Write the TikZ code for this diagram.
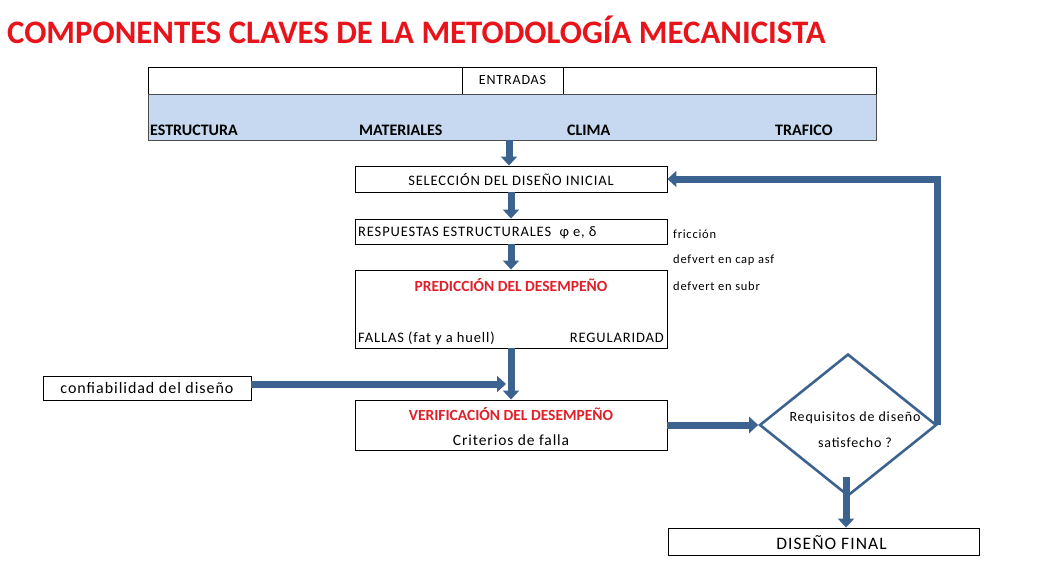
\documentclass[tikz,border=0pt]{standalone}
\usepackage{fontspec}
\setmainfont{Carlito}
\newfontfamily\spacedfont[LetterSpace=6]{Carlito}
\usetikzlibrary{shapes.geometric,arrows.meta,calc}
\definecolor{arr}{HTML}{3C6390}
\definecolor{ttl}{HTML}{E8141B}
\definecolor{rd}{HTML}{E0202A}
\definecolor{bl}{HTML}{C6D9F0}
\tikzset{
  box/.style={draw=black, line width=0.9pt, fill=white, inner sep=0pt, minimum width=312pt},
  arrow/.style={draw=arr, line width=7pt, -{Triangle[width=16pt,length=9pt]}},
  small/.style={font=\spacedfont\fontsize{14.5}{16}\selectfont, inner sep=0pt},
  side/.style={font=\spacedfont\fontsize{12.5}{14}\selectfont, inner sep=0pt},
  hdr/.style={font=\bfseries\fontsize{16}{18}\selectfont, inner sep=0pt},
  redt/.style={inner sep=0pt, text=rd, font=\bfseries\fontsize{15.5}{17}\selectfont},
}
\begin{document}
\begin{tikzpicture}[x=1pt,y=-1pt]
\useasboundingbox (0,0) rectangle (1059,562);
% title
\node[anchor=west, inner sep=0pt, text=ttl, font=\bfseries\fontsize{32.8}{36}\selectfont] (title) at (7,30) {COMPONENTES CLAVES DE LA METODOLOGÍA MECANICISTA};
% entradas
\draw[line width=0.9pt] (148,67) rectangle (876,94);
\node[draw, line width=0.9pt, minimum width=101pt, minimum height=27pt, inner sep=0pt, small, font=\spacedfont\fontsize{14}{16}\selectfont] (ent) at (512.5,80.5) {ENTRADAS};
\node[draw=black!70, line width=0.9pt, fill=bl, minimum width=728pt, minimum height=46pt, inner sep=0pt] (inp) at (512,117) {};
\node[hdr, anchor=base west] (e1) at (150,135) {ESTRUCTURA};
\node[hdr, anchor=base west] (e2) at (359,135) {MATERIALES};
\node[hdr, anchor=base west] (e3) at (567,135) {CLIMA};
\node[hdr, anchor=base west] (e4) at (775,135) {TRAFICO};
% boxes
\node[box, minimum height=26pt, small] (sel) at (511,179) {SELECCIÓN DEL DISEÑO INICIAL};
\node[box, minimum height=25pt] (resp) at (511,231.5) {};
\node[small, anchor=west] (resptxt) at (358,233) {RESPUESTAS ESTRUCTURALES \ φ e, δ};
\node[box, minimum height=78pt] (pred) at (511,309) {};
\node[redt] (predt) at (511,285) {PREDICCIÓN DEL DESEMPEÑO};
\node[small, anchor=west] (fallas) at (358,338) {FALLAS (fat y a huell)};
\node[small, anchor=east] (regul) at (664,338) {REGULARIDAD};
\node[side, anchor=west] (s1) at (673,234) {fricción};
\node[side, anchor=west] (s2) at (673,260) {defvert en cap asf};
\node[side, anchor=west] (s3) at (673,286) {defvert en subr};
\node[box, minimum height=50pt] (ver) at (511,425) {};
\node[redt] (vert) at (511,414) {VERIFICACIÓN DEL DESEMPEÑO};
\node[small, font=\spacedfont\fontsize{15.5}{17}\selectfont] (crit) at (511,440) {Criterios de falla};
\node[draw, line width=0.9pt, minimum width=208pt, minimum height=24pt, inner sep=0pt, font=\spacedfont\fontsize{16}{18}\selectfont] (conf) at (147,388) {confiabilidad del diseño};
\node[draw=arr, line width=2.6pt, diamond, minimum width=177pt, minimum height=142pt, inner sep=0pt] (dia) at (848,425) {};
\node[align=center, inner sep=0pt, font=\spacedfont\fontsize{14}{26}\selectfont] (diat) at (855,430) {Requisitos de diseño\\satisfecho ?};
\node[draw, line width=0.9pt, minimum width=311pt, minimum height=27pt, inner sep=0pt] (fin) at (823.5,541.5) {};
\node[inner sep=0pt, font=\spacedfont\fontsize{17.5}{19}\selectfont] (fint) at (831.5,543) {DISEÑO FINAL};
% arrows
\draw[arrow] (inp.south -| sel.north) ++(-2,0) coordinate (a0) -- (a0 |- sel.north);
\draw[arrow] (sel.south) -- (resp.north);
\draw[arrow] (resp.south) -- (pred.north);
\coordinate (j) at (511,384);
\draw[draw=arr, line width=7pt] (pred.south) -- (j);
\draw[arrow] (j) -- (ver.north);
\draw[arrow] (conf.east |- j) -- (506,384);
\draw[arrow] (ver.east) -- (dia.west);
\draw[arrow] (dia.east) |- (sel.east);
\coordinate (ds) at (846,477);
\draw[arrow] (ds) -- (ds |- fin.north);
\end{tikzpicture}
\end{document}
